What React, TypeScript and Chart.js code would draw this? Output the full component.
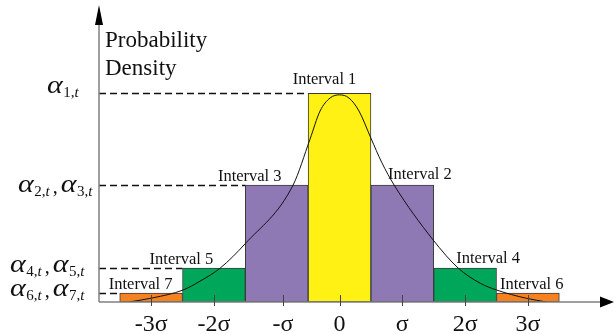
import React, { useEffect, useRef } from 'react';
import { Chart, registerables } from 'chart.js';

Chart.register(...registerables);

// ---------------- data ----------------
const intervalNames = ['Interval 7', 'Interval 5', 'Interval 3', 'Interval 1', 'Interval 2', 'Interval 4', 'Interval 6'];
const intervalCenters = [-3, -2, -1, 0, 1, 2, 3];
const intervalHeights = [0.017, 0.065, 0.224, 0.4, 0.224, 0.065, 0.017];

const curveX = [-3.35, -2.97, -2.49, -2.22, -1.9, -1.5, -0.74, -0.47, -0.31, -0.15, 0, 0.15, 0.31, 0.5, 0.67, 0.87, 1.49, 1.89, 2.24, 2.5, 2.98, 3.3];
const curveY = [0, 0.008, 0.023, 0.04, 0.065, 0.112, 0.224, 0.312, 0.366, 0.391, 0.397, 0.391, 0.366, 0.314, 0.268, 0.224, 0.119, 0.065, 0.036, 0.023, 0.007, 0];

const tickValues = [-3, -2, -0.9, 0, 1, 2, 3];
const tickLabels = ['-3σ', '-2σ', '-σ', '0', 'σ', '2σ', '3σ'];

const alphaGroups = [[1], [2, 3], [4, 5], [6, 7]];
const alphaLevels = [0.4, 0.224, 0.065, 0.017];

const axisTitle = ['Probability', 'Density'];

// ---------------- styles / layout ----------------
const intervalColors = ['#F5821F', '#00A65A', '#8E79B5', '#FFF114', '#8E79B5', '#00A65A', '#F5821F'];
const labelNudge = [[-10.5, 4], [-32.5, 4], [-27, 4.3], [-15, 9.3], [17.5, 5.7], [23, 5.3], [3.8, 4]];
const alphaLabelLeft = [47, 18, 10, 10];
const alphaBaselineNudge = [0, 7, 4, 3];
const SERIF = '"Liberation Serif", "Times New Roman", serif';

function drawAlpha(ctx: CanvasRenderingContext2D, x: number, y: number, group: number[]) {
  ctx.save();
  ctx.fillStyle = '#111';
  ctx.textAlign = 'left';
  ctx.textBaseline = 'alphabetic';
  let cx = x;
  group.forEach((idx, k) => {
    if (k > 0) {
      ctx.font = `20px ${SERIF}`;
      cx += 3;
      ctx.fillText(',', cx, y + 1);
      cx += ctx.measureText(',').width + 3;
    }
    ctx.font = `italic 25px ${SERIF}`;
    const aw = ctx.measureText('α').width;
    ctx.save();
    ctx.translate(cx, y);
    ctx.scale(1.2, 1);
    ctx.fillText('α', 0, 0);
    ctx.restore();
    cx += aw * 1.2 + 0.5;
    ctx.font = `15px ${SERIF}`;
    const s = `${idx},`;
    ctx.fillText(s, cx, y + 4);
    cx += ctx.measureText(s).width;
    ctx.font = `italic 15px ${SERIF}`;
    ctx.fillText('t', cx, y + 4);
    cx += ctx.measureText('t').width;
  });
  ctx.restore();
}

const decor = {
  id: 'decor',
  beforeDatasetsDraw(chart: any) {
    const { ctx, chartArea, scales } = chart;
    const xs = scales.x, ys = scales.y;
    ctx.save();
    ctx.strokeStyle = '#111';
    ctx.lineWidth = 1.3;
    ctx.setLineDash([7, 4]);
    alphaLevels.forEach((lv) => {
      let minC = Infinity;
      intervalHeights.forEach((h, i) => { if (h === lv && intervalCenters[i] < minC) minC = intervalCenters[i]; });
      const y = Math.round(ys.getPixelForValue(lv)) + 0.5;
      ctx.beginPath();
      ctx.moveTo(chartArea.left, y);
      ctx.lineTo(xs.getPixelForValue(minC - 0.5), y);
      ctx.stroke();
    });
    ctx.restore();
  },
  afterDatasetsDraw(chart: any) {
    const { ctx, chartArea, scales } = chart;
    const xs = scales.x, ys = scales.y;
    const L = chartArea.left, B = chartArea.bottom, T = chartArea.top, R = chartArea.right;
    ctx.save();
    // axes
    ctx.strokeStyle = '#808080';
    ctx.lineWidth = 1.5;
    ctx.beginPath();
    ctx.moveTo(L, B);
    ctx.lineTo(L, T + 18);
    ctx.moveTo(L, B);
    ctx.lineTo(R - 12, B);
    ctx.stroke();
    ctx.fillStyle = '#000';
    ctx.beginPath();
    ctx.moveTo(L, T);
    ctx.lineTo(L - 4, T + 20);
    ctx.lineTo(L + 4, T + 20);
    ctx.closePath();
    ctx.fill();
    ctx.beginPath();
    ctx.moveTo(R, B);
    ctx.lineTo(R - 14, B - 5.5);
    ctx.lineTo(R - 14, B + 5.5);
    ctx.closePath();
    ctx.fill();
    // ticks
    ctx.strokeStyle = '#444';
    ctx.lineWidth = 1;
    tickValues.forEach((v) => {
      const x = Math.round(xs.getPixelForValue(v)) + 0.5;
      ctx.beginPath();
      ctx.moveTo(x, B - 7);
      ctx.lineTo(x, B + 4);
      ctx.stroke();
    });
    ctx.fillStyle = '#111';
    ctx.textAlign = 'center';
    ctx.textBaseline = 'alphabetic';
    ctx.font = `24px ${SERIF}`;
    tickValues.forEach((v, i) => {
      ctx.fillText(tickLabels[i], xs.getPixelForValue(v), B + 29);
    });
    // interval labels
    ctx.font = `16.5px ${SERIF}`;
    intervalNames.forEach((n, i) => {
      const x = xs.getPixelForValue(intervalCenters[i]) + labelNudge[i][0];
      const y = ys.getPixelForValue(intervalHeights[i]) - labelNudge[i][1];
      ctx.fillText(n, x, y);
    });
    // axis title
    ctx.textAlign = 'left';
    ctx.font = `23px ${SERIF}`;
    ctx.fillText(axisTitle[0], L + 6, T + 42);
    ctx.fillText(axisTitle[1], L + 6, T + 70);
    ctx.restore();
    // alpha labels
    alphaGroups.forEach((g, i) => {
      drawAlpha(ctx, alphaLabelLeft[i], ys.getPixelForValue(alphaLevels[i]) + alphaBaselineNudge[i], g);
    });
  },
};

export default function App() {
  const ref = useRef<HTMLCanvasElement | null>(null);
  useEffect(() => {
    if (!ref.current) return;
    const chart = new Chart(ref.current, {
      type: 'bar',
      data: {
        datasets: [
          {
            type: 'line',
            data: curveX.map((x, i) => ({ x, y: curveY[i] })),
            borderColor: '#111',
            borderWidth: 1,
            pointRadius: 0,
            cubicInterpolationMode: 'monotone',
            fill: false,
            order: 0,
          } as any,
          {
            type: 'bar',
            data: intervalCenters.map((x, i) => ({ x, y: intervalHeights[i] })),
            backgroundColor: intervalColors,
            borderColor: '#3a3a3a',
            borderWidth: 1,
            borderSkipped: false,
            barThickness: 'flex',
            categoryPercentage: 1,
            barPercentage: 1,
            order: 1,
          } as any,
        ],
      },
      options: {
        animation: false,
        responsive: false,
        events: [],
        layout: { padding: { left: 99, right: 0, top: 5, bottom: 32 } },
        plugins: { legend: { display: false }, tooltip: { enabled: false } },
        scales: {
          x: { type: 'linear', min: -3.83, max: 4.3706, display: false, offset: false },
          y: { min: 0, max: 0.5692, display: false },
        },
      } as any,
      plugins: [decor],
    });
    return () => chart.destroy();
  }, []);
  return (
    <div style={{ position: 'absolute', left: 0, top: 0, width: 614, height: 334, background: '#fff' }}>
      <canvas ref={ref} width={614} height={334} style={{ width: 614, height: 334, display: 'block' }} />
    </div>
  );
}
